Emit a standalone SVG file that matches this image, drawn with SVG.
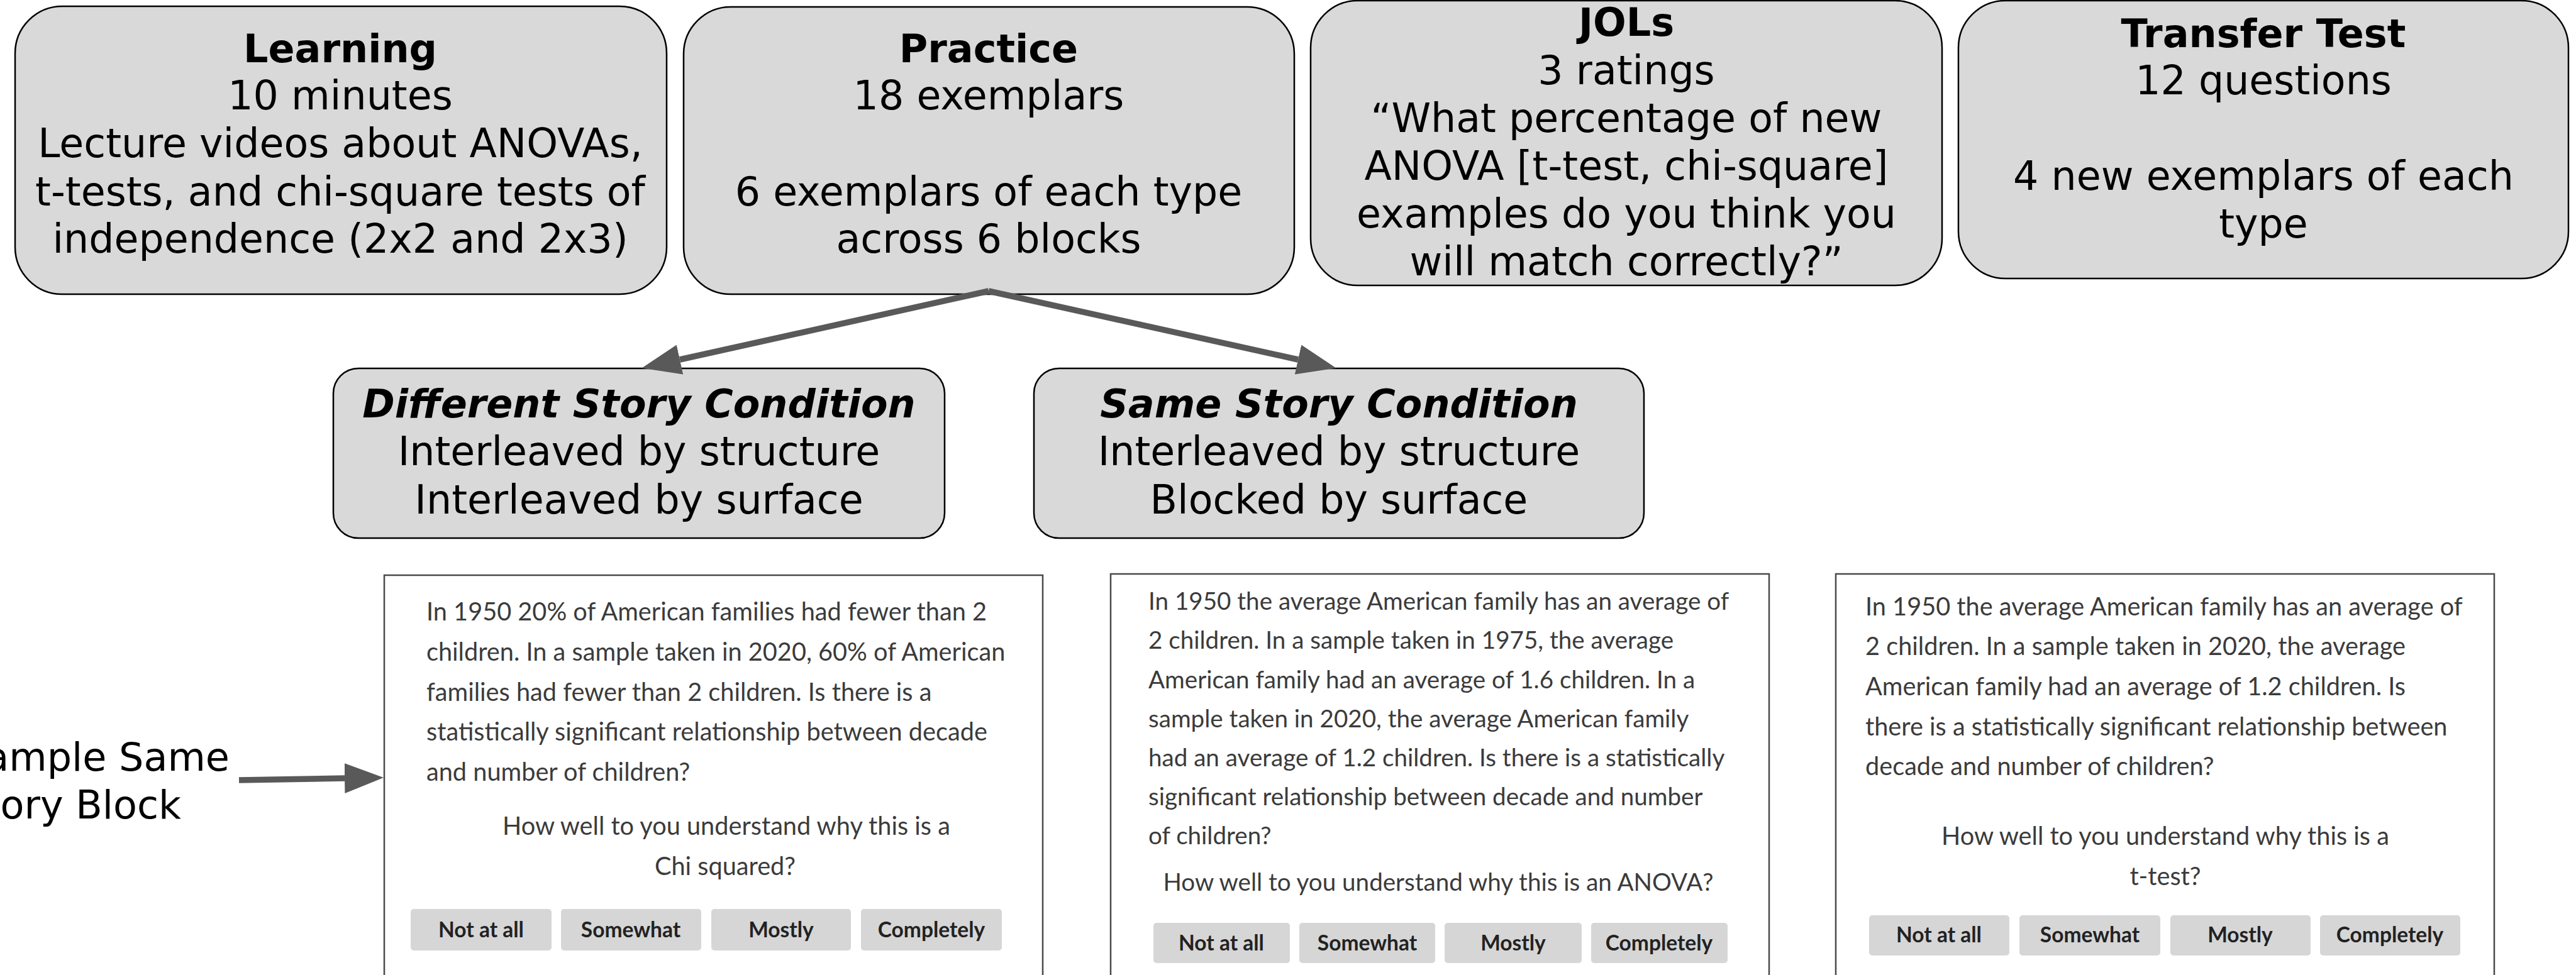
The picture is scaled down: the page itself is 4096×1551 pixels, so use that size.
<svg xmlns="http://www.w3.org/2000/svg" width="4096" height="1551" viewBox="0 0 4096 1551">
<defs>
<style>
.box{fill:#d9d9d9;stroke:#000;stroke-width:2.5}
.t{font-family:"DejaVu Sans",Verdana,sans-serif;font-size:63.4px;fill:#000;text-anchor:middle}
.b{font-weight:bold;font-size:62px}
.bi{font-weight:bold;font-style:italic;font-size:62px}
.lab{font-family:"DejaVu Sans",Verdana,sans-serif;font-size:62px;fill:#000;text-anchor:end}
.panel{fill:#fff;stroke:#4a4a4a;stroke-width:2.5}
.p{font-family:Lato,"Open Sans",sans-serif;font-size:39.7px;fill:#3b3b3b}
.p2{font-size:38.6px}
.pc{text-anchor:middle}
.btn{fill:#d6d6d6}
.bl{font-family:Lato,"Open Sans",sans-serif;font-size:33.5px;font-weight:bold;fill:#222;text-anchor:middle}
.conn{stroke:#595959;stroke-width:9.5;fill:none}
</style>
<marker id="ah" markerUnits="userSpaceOnUse" markerWidth="62" markerHeight="48" viewBox="0 0 62 48" refX="0" refY="24" orient="auto">
<path d="M0,0 L62,24 L0,48 z" fill="#595959"/>
</marker>
</defs>
<rect width="4096" height="1551" fill="#fff"/>

<g id="learning">
<rect class="box" x="24" y="10" width="1036" height="458" rx="75" ry="75"/>
<text class="t b" x="541" y="99">Learning</text>
<text class="t" x="541" y="174">10 minutes</text>
<text class="t" x="541" y="250">Lecture videos about ANOVAs,</text>
<text class="t" x="541" y="327">t-tests, and chi-square tests of</text>
<text class="t" x="541" y="402">independence (2x2 and 2x3)</text>
</g>

<g id="practice">
<rect class="box" x="1087" y="11" width="971" height="457" rx="75" ry="75"/>
<text class="t b" x="1572" y="99">Practice</text>
<text class="t" x="1572" y="174">18 exemplars</text>
<text class="t" x="1572" y="327">6 exemplars of each type</text>
<text class="t" x="1572" y="402">across 6 blocks</text>
</g>

<g id="jols">
<rect class="box" x="2084" y="1" width="1004" height="453" rx="75" ry="75"/>
<text class="t b" x="2586" y="57">JOLs</text>
<text class="t" x="2586" y="134">3 ratings</text>
<text class="t" x="2586" y="210">“What percentage of new</text>
<text class="t" x="2586" y="286">ANOVA [t-test, chi-square]</text>
<text class="t" x="2586" y="362">examples do you think you</text>
<text class="t" x="2586" y="438">will match correctly?”</text>
</g>

<g id="transfer">
<rect class="box" x="3114" y="1" width="970" height="442" rx="75" ry="75"/>
<text class="t b" x="3599" y="75">Transfer Test</text>
<text class="t" x="3599" y="150">12 questions</text>
<text class="t" x="3599" y="302">4 new exemplars of each</text>
<text class="t" x="3599" y="378">type</text>
</g>

<g id="different">
<rect class="box" x="530" y="586" width="972" height="270" rx="40" ry="40"/>
<text class="t bi" x="1016" y="664">Different Story Condition</text>
<text class="t" x="1016" y="740">Interleaved by structure</text>
<text class="t" x="1016" y="817">Interleaved by surface</text>
</g>

<g id="same">
<rect class="box" x="1644" y="586" width="970" height="270" rx="40" ry="40"/>
<text class="t bi" x="2129" y="664">Same Story Condition</text>
<text class="t" x="2129" y="740">Interleaved by structure</text>
<text class="t" x="2129" y="817">Blocked by surface</text>
</g>

<g id="label">
<text class="lab" x="365" y="1226">ample Same</text>
<text class="lab" x="288" y="1302">ory Block</text>
</g>

<g id="panel1">
<rect class="panel" x="611" y="915" width="1047" height="700"/>
<text class="p" x="678" y="987">In 1950 20% of American families had fewer than 2</text>
<text class="p" x="678" y="1051">children. In a sample taken in 2020, 60% of American</text>
<text class="p" x="678" y="1115">families had fewer than 2 children. Is there is a</text>
<text class="p" x="678" y="1178">statistically significant relationship between decade</text>
<text class="p" x="678" y="1242">and number of children?</text>
<text class="p pc" x="1155" y="1328">How well to you understand why this is a</text>
<text class="p pc" x="1153" y="1392">Chi squared?</text>
<rect class="btn" x="653" y="1446" width="224" height="66" rx="5"/>
<rect class="btn" x="892" y="1446" width="223" height="66" rx="5"/>
<rect class="btn" x="1131" y="1446" width="222" height="66" rx="5"/>
<rect class="btn" x="1369" y="1446" width="224" height="66" rx="5"/>
<text class="bl" x="765" y="1491">Not at all</text>
<text class="bl" x="1003" y="1491">Somewhat</text>
<text class="bl" x="1242" y="1491">Mostly</text>
<text class="bl" x="1481" y="1491">Completely</text>
</g>

<g id="panel2">
<rect class="panel" x="1766" y="913" width="1047" height="700"/>
<text class="p p2" x="1826" y="970">In 1950 the average American family has an average of</text>
<text class="p p2" x="1826" y="1032">2 children. In a sample taken in 1975, the average</text>
<text class="p p2" x="1826" y="1095">American family had an average of 1.6 children. In a</text>
<text class="p p2" x="1826" y="1157">sample taken in 2020, the average American family</text>
<text class="p p2" x="1826" y="1219">had an average of 1.2 children. Is there is a statistically</text>
<text class="p p2" x="1826" y="1281">significant relationship between decade and number</text>
<text class="p p2" x="1826" y="1343">of children?</text>
<text class="p p2 pc" x="2287" y="1417">How well to you understand why this is an ANOVA?</text>
<rect class="btn" x="1834" y="1468" width="217" height="64" rx="5"/>
<rect class="btn" x="2066" y="1468" width="216" height="64" rx="5"/>
<rect class="btn" x="2297" y="1468" width="218" height="64" rx="5"/>
<rect class="btn" x="2530" y="1468" width="217" height="64" rx="5"/>
<text class="bl" x="1942" y="1512">Not at all</text>
<text class="bl" x="2174" y="1512">Somewhat</text>
<text class="bl" x="2406" y="1512">Mostly</text>
<text class="bl" x="2638" y="1512">Completely</text>
</g>

<g id="panel3">
<rect class="panel" x="2919" y="913" width="1047" height="700"/>
<text class="p" x="2966" y="979">In 1950 the average American family has an average of</text>
<text class="p" x="2966" y="1042">2 children. In a sample taken in 2020, the average</text>
<text class="p" x="2966" y="1106">American family had an average of 1.2 children. Is</text>
<text class="p" x="2966" y="1170">there is a statistically significant relationship between</text>
<text class="p" x="2966" y="1233">decade and number of children?</text>
<text class="p pc" x="3443" y="1344">How well to you understand why this is a</text>
<text class="p pc" x="3443" y="1408">t-test?</text>
<rect class="btn" x="2972" y="1456" width="223" height="64" rx="5"/>
<rect class="btn" x="3211" y="1456" width="224" height="64" rx="5"/>
<rect class="btn" x="3451" y="1456" width="223" height="64" rx="5"/>
<rect class="btn" x="3689" y="1456" width="223" height="64" rx="5"/>
<text class="bl" x="3083" y="1499">Not at all</text>
<text class="bl" x="3323" y="1499">Somewhat</text>
<text class="bl" x="3562" y="1499">Mostly</text>
<text class="bl" x="3800" y="1499">Completely</text>
</g>

<g id="connectors">
<line class="conn" x1="1572" y1="463" x2="1081" y2="572" marker-end="url(#ah)"/>
<line class="conn" x1="1572" y1="463" x2="2064" y2="572" marker-end="url(#ah)"/>
<line class="conn" x1="380" y1="1241" x2="548" y2="1238" marker-end="url(#ah)"/>
</g>
</svg>
